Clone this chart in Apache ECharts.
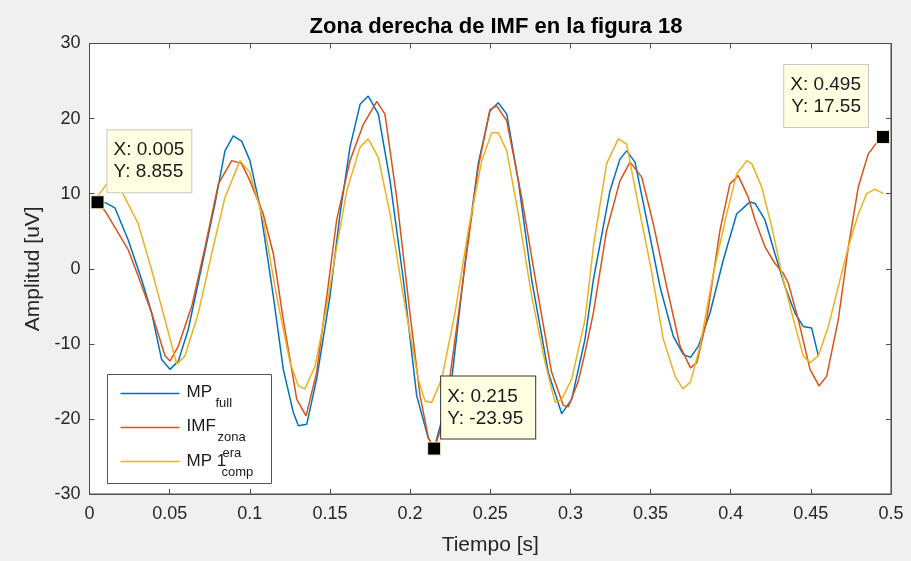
<!DOCTYPE html>
<html>
<head>
<meta charset="utf-8">
<title>Zona derecha de IMF en la figura 18</title>
<script src="https://cdn.jsdelivr.net/npm/echarts@6/dist/echarts.min.js"></script>
<style>
  html, body { margin: 0; padding: 0; background: #f0f0f0; }
  #chart { width: 911px; height: 561px; }
</style>
</head>
<body>
<div id="chart"></div>
<script>
// MP full
const tFull = [0.005, 0.0097, 0.0159, 0.0242, 0.0326, 0.0388, 0.045, 0.0502, 0.0554, 0.0616, 0.07, 0.0783, 0.0845, 0.0897, 0.0949, 0.1001, 0.1064, 0.1147, 0.1209, 0.1271, 0.1303, 0.1355, 0.1417, 0.15, 0.1563, 0.1625, 0.1688, 0.1739, 0.1802, 0.1875, 0.1958, 0.2041, 0.2114, 0.215, 0.22, 0.226, 0.2342, 0.2425, 0.2498, 0.255, 0.2603, 0.2675, 0.2759, 0.2862, 0.2946, 0.3008, 0.3091, 0.3143, 0.3247, 0.3309, 0.3351, 0.3403, 0.3476, 0.3559, 0.3642, 0.3704, 0.3749, 0.3799, 0.3871, 0.3954, 0.4037, 0.412, 0.4152, 0.4214, 0.4276, 0.4339, 0.4401, 0.4453, 0.4505, 0.4547];
const yFull = [9.0, 8.8, 8.1, 3.8, -1.5, -5.9, -12.1, -13.4, -12.3, -8.1, 0.3, 8.7, 15.7, 17.7, 17.0, 14.4, 8.2, -3.7, -13.4, -19.1, -20.9, -20.7, -14.7, -3.7, 7.3, 16.2, 21.9, 23.0, 20.6, 11.7, -1.5, -16.9, -22.6, -23.9, -20.0, -14.7, 0.7, 14.0, 21.0, 22.1, 20.6, 11.7, -1.5, -13.8, -19.3, -17.4, -9.4, -1.5, 10.4, 14.6, 15.7, 14.2, 6.5, -2.4, -9.0, -11.4, -11.8, -10.3, -5.9, 1.2, 7.3, 8.9, 8.7, 6.5, 2.0, -2.4, -5.9, -7.7, -7.9, -11.6];

// IMF zona
const tZona = [0.005, 0.0097, 0.0242, 0.0304, 0.0388, 0.0471, 0.0502, 0.0554, 0.0638, 0.0721, 0.0804, 0.0887, 0.0949, 0.1001, 0.1084, 0.1147, 0.1209, 0.1293, 0.1351, 0.1417, 0.148, 0.1542, 0.1625, 0.1708, 0.1792, 0.1843, 0.1916, 0.1999, 0.2062, 0.2114, 0.215, 0.2205, 0.2249, 0.2342, 0.2425, 0.2498, 0.254, 0.2603, 0.2696, 0.28, 0.2883, 0.2956, 0.2987, 0.3049, 0.3091, 0.3143, 0.3226, 0.3309, 0.3372, 0.3445, 0.3517, 0.3601, 0.3684, 0.3749, 0.3789, 0.385, 0.3933, 0.3995, 0.4047, 0.411, 0.4152, 0.4214, 0.4276, 0.4328, 0.4359, 0.4422, 0.4495, 0.4551, 0.4599, 0.4671, 0.4734, 0.4796, 0.4858, 0.4911, 0.495];
const yZona = [8.855, 7.7, 2.5, -1.0, -5.9, -11.6, -12.3, -10.3, -5.0, 2.9, 11.3, 14.4, 14.0, 11.7, 7.3, 2.0, -6.8, -17.4, -19.6, -13.8, -3.7, 6.5, 14.4, 19.2, 22.3, 20.6, 9.5, -5.9, -16.9, -22.5, -23.95, -20.5, -14.3, 0.3, 13.5, 21.2, 21.7, 19.7, 9.5, -3.7, -13.8, -18.2, -18.4, -15.0, -11.2, -5.9, 5.1, 11.7, 14.2, 12.2, 6.0, -2.4, -10.3, -13.2, -12.5, -6.8, 5.1, 11.3, 12.4, 9.5, 6.5, 2.9, 0.7, -0.6, -1.9, -6.8, -13.4, -15.6, -14.3, -6.8, 2.9, 10.9, 15.3, 16.8, 17.55];

// MP 1era comp
const tComp = [0.005, 0.0105, 0.0155, 0.0201, 0.0304, 0.0388, 0.0471, 0.0544, 0.0596, 0.0679, 0.0762, 0.0845, 0.0939, 0.1001, 0.1084, 0.1168, 0.1251, 0.1303, 0.1344, 0.1407, 0.148, 0.1542, 0.1605, 0.1688, 0.1739, 0.1802, 0.1875, 0.1958, 0.2051, 0.2093, 0.2135, 0.2197, 0.228, 0.2363, 0.2447, 0.2509, 0.255, 0.2603, 0.2675, 0.2759, 0.2842, 0.2904, 0.2946, 0.3008, 0.3091, 0.3143, 0.3226, 0.3299, 0.3351, 0.3414, 0.3497, 0.358, 0.3653, 0.3701, 0.3749, 0.3809, 0.3892, 0.3975, 0.4037, 0.41, 0.4131, 0.4193, 0.4256, 0.4318, 0.4381, 0.4453, 0.4495, 0.4547, 0.4609, 0.4671, 0.4734, 0.4796, 0.4848, 0.49, 0.4952];
const yComp = [9.6, 11.2, 11.0, 10.3, 6.0, -0.2, -6.8, -12.7, -11.6, -5.9, 2.0, 9.5, 14.4, 12.8, 6.5, -3.7, -12.5, -15.6, -16.0, -13.0, -5.0, 2.9, 10.4, 16.2, 17.3, 14.8, 7.3, -3.7, -14.7, -17.6, -17.8, -14.7, -5.9, 5.1, 14.4, 18.1, 18.1, 15.7, 7.3, -3.7, -12.5, -17.8, -17.4, -14.7, -6.8, 2.9, 14.0, 17.3, 16.6, 9.5, 0.7, -9.4, -14.3, -16.0, -15.1, -10.3, -0.6, 7.3, 12.6, 14.4, 14.0, 10.9, 5.6, -0.6, -5.9, -11.6, -12.5, -11.6, -7.7, -2.4, 2.9, 7.3, 10.0, 10.6, 10.0];

// data tips (on IMF zona)
const tipX = [0.005, 0.215, 0.495];
const tipY = [8.855, -23.95, 17.55];

const xTicks = [0, 0.05, 0.1, 0.15, 0.2, 0.25, 0.3, 0.35, 0.4, 0.45, 0.5];

const FONT = "'Liberation Sans', Arial, Helvetica, sans-serif";
const pairs = (xs, ys) => xs.map((x, i) => [x, ys[i]]);

const tipLabels = [
  { position: [17, -3], align: 'left', borderColor: '#c8c8c8', padding: [9, 7, 9, 6] },
  { position: [14, -3], align: 'left', borderColor: '#333333', padding: [9, 12, 9, 6] },
  { position: [-8, -3], align: 'right', borderColor: '#c8c8c8', padding: [9, 7, 9, 6] }
];

const chart = echarts.init(document.getElementById('chart'));

function baseAxis(extra) {
  return Object.assign({
    axisLine: { show: true, onZero: false, lineStyle: { color: '#4d4d4d', width: 1 } },
    axisTick: { show: true, inside: true, length: 5, lineStyle: { color: '#4d4d4d' } },
    splitLine: { show: false }
  }, extra);
}

const option = {
  animation: false,
  backgroundColor: '#f0f0f0',
  textStyle: { fontFamily: FONT },
  title: {
    text: 'Zona derecha de IMF en la figura 18',
    left: 491,
    top: 11,
    textAlign: 'center',
    textStyle: { fontSize: 22, fontWeight: 'bold', color: '#000', fontFamily: FONT }
  },
  grid: {
    left: 89.5, right: 20, top: 43.5, bottom: 65.5,
    show: true, backgroundColor: '#ffffff', borderColor: '#4d4d4d', borderWidth: 1
  },
  xAxis: [
    baseAxis({
      type: 'value', min: 0, max: 0.5, interval: 0.05, position: 'bottom',
      axisLabel: {
        color: '#262626', fontSize: 18, margin: 11, fontFamily: FONT,
        formatter: v => {
          const hit = xTicks.find(t => Math.abs(t - v) < 1e-9);
          return hit === undefined ? '' : String(hit);
        }
      },
      name: 'Tiempo [s]', nameLocation: 'middle', nameGap: 41,
      nameTextStyle: { fontSize: 21, color: '#262626', fontFamily: FONT }
    }),
    baseAxis({
      type: 'value', min: 0, max: 0.5, interval: 0.05, position: 'top',
      axisLabel: { show: false }
    })
  ],
  yAxis: [
    baseAxis({
      type: 'value', min: -30, max: 30, interval: 10, position: 'left',
      axisLabel: { color: '#262626', fontSize: 18, margin: 9, fontFamily: FONT },
      name: 'Amplitud [uV]', nameLocation: 'middle', nameGap: 44,
      nameTextStyle: { fontSize: 21, color: '#262626', fontFamily: FONT }
    }),
    baseAxis({
      type: 'value', min: -30, max: 30, interval: 10, position: 'right',
      axisLabel: { show: false }
    })
  ],
  series: [
    {
      name: 'MP full', type: 'line', symbol: 'none',
      lineStyle: { color: '#0072BD', width: 1.5 }, itemStyle: { color: '#0072BD' },
      data: pairs(tFull, yFull)
    },
    {
      name: 'IMF zona', type: 'line', symbol: 'none',
      lineStyle: { color: '#D95319', width: 1.5 }, itemStyle: { color: '#D95319' },
      data: pairs(tZona, yZona)
    },
    {
      name: 'MP 1era comp', type: 'line', symbol: 'none',
      lineStyle: { color: '#EDB120', width: 1.5 }, itemStyle: { color: '#EDB120' },
      data: pairs(tComp, yComp),
      markPoint: {
        z: 20,
        symbol: 'rect',
        symbolSize: 13,
        itemStyle: { color: '#000', borderColor: '#f5f0c0', borderWidth: 1 },
        data: tipX.map((x, i) => ({
          coord: [x, tipY[i]],
          label: {
            show: true,
            formatter: 'X: ' + x + '\nY: ' + tipY[i],
            position: tipLabels[i].position,
            align: tipLabels[i].align,
            verticalAlign: 'bottom',
            color: '#1a1a1a',
            fontSize: 19,
            lineHeight: 22,
            fontFamily: FONT,
            backgroundColor: '#ffffe1',
            borderColor: tipLabels[i].borderColor,
            borderWidth: 1,
            padding: tipLabels[i].padding
          }
        }))
      }
    }
  ],
  graphic: [
    {
      type: 'group', left: 107, top: 374, z: 100,
      children: [
        { type: 'rect', shape: { x: 0, y: 0, width: 164, height: 109 },
          style: { fill: '#ffffff', stroke: '#555555', lineWidth: 1 } },
        { type: 'line', shape: { x1: 13, y1: 19, x2: 72, y2: 19 }, style: { stroke: '#0072BD', lineWidth: 1.5 } },
        { type: 'line', shape: { x1: 13, y1: 53, x2: 72, y2: 53 }, style: { stroke: '#D95319', lineWidth: 1.5 } },
        { type: 'line', shape: { x1: 13, y1: 87, x2: 72, y2: 87 }, style: { stroke: '#EDB120', lineWidth: 1.5 } },
        { type: 'text', x: 79, y: 18, style: { text: 'MP', font: '17px ' + FONT, fill: '#1a1a1a', verticalAlign: 'middle' } },
        { type: 'text', x: 108, y: 29, style: { text: 'full', font: '13px ' + FONT, fill: '#1a1a1a', verticalAlign: 'middle' } },
        { type: 'text', x: 79, y: 52, style: { text: 'IMF', font: '17px ' + FONT, fill: '#1a1a1a', verticalAlign: 'middle' } },
        { type: 'text', x: 110, y: 63, style: { text: 'zona', font: '13px ' + FONT, fill: '#1a1a1a', verticalAlign: 'middle' } },
        { type: 'text', x: 79, y: 87, style: { text: 'MP 1', font: '17px ' + FONT, fill: '#1a1a1a', verticalAlign: 'middle' } },
        { type: 'text', x: 115, y: 79, style: { text: 'era', font: '13px ' + FONT, fill: '#1a1a1a', verticalAlign: 'middle' } },
        { type: 'text', x: 114, y: 98, style: { text: 'comp', font: '13px ' + FONT, fill: '#1a1a1a', verticalAlign: 'middle' } }
      ]
    }
  ]
};

chart.setOption(option);
</script>
</body>
</html>
